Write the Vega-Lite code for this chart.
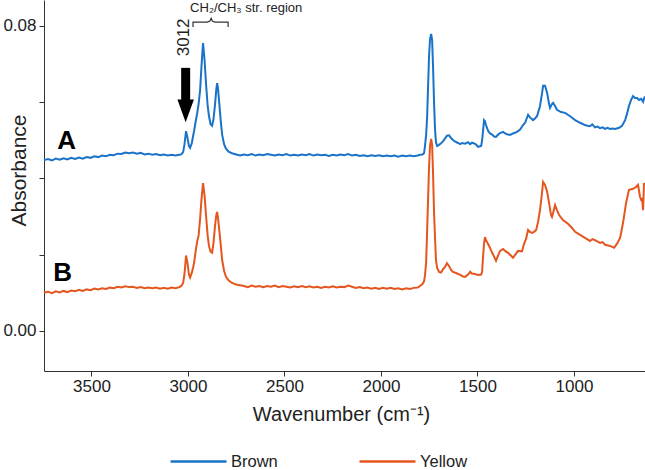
{
"$schema": "https://vega.github.io/schema/vega-lite/v6.json",
"autosize": {"type": "none"},
"padding": {"left": 44, "top": 0, "right": 0, "bottom": 99},
"width": 601,
"height": 371,
"background": "white",
"config": {
  "view": {"stroke": null},
  "font": "Liberation Sans",
  "axis": {"domainColor": "#333", "tickColor": "#333", "labelColor": "#222", "titleColor": "#222", "grid": false, "tickSize": 5, "labelFontSize": 17, "titleFontWeight": "normal", "labelFont": "Liberation Sans", "titleFont": "Liberation Sans"}
},
"datasets": {
  "spectra": [
{"sample":"Brown","wavenumber":3746,"absorbance":0.0448},{"sample":"Brown","wavenumber":3725,"absorbance":0.0451},{"sample":"Brown","wavenumber":3705,"absorbance":0.0447},{"sample":"Brown","wavenumber":3685,"absorbance":0.0452},{"sample":"Brown","wavenumber":3665,"absorbance":0.0449},{"sample":"Brown","wavenumber":3645,"absorbance":0.0453},{"sample":"Brown","wavenumber":3625,"absorbance":0.0450},{"sample":"Brown","wavenumber":3605,"absorbance":0.0454},{"sample":"Brown","wavenumber":3585,"absorbance":0.0451},{"sample":"Brown","wavenumber":3565,"absorbance":0.0455},{"sample":"Brown","wavenumber":3545,"absorbance":0.0452},{"sample":"Brown","wavenumber":3525,"absorbance":0.0456},{"sample":"Brown","wavenumber":3505,"absorbance":0.0454},{"sample":"Brown","wavenumber":3485,"absorbance":0.0458},{"sample":"Brown","wavenumber":3465,"absorbance":0.0456},{"sample":"Brown","wavenumber":3445,"absorbance":0.0460},{"sample":"Brown","wavenumber":3425,"absorbance":0.0458},{"sample":"Brown","wavenumber":3405,"absorbance":0.0462},{"sample":"Brown","wavenumber":3385,"absorbance":0.0461},{"sample":"Brown","wavenumber":3365,"absorbance":0.0465},{"sample":"Brown","wavenumber":3345,"absorbance":0.0464},{"sample":"Brown","wavenumber":3325,"absorbance":0.0468},{"sample":"Brown","wavenumber":3305,"absorbance":0.0466},{"sample":"Brown","wavenumber":3285,"absorbance":0.0468},{"sample":"Brown","wavenumber":3265,"absorbance":0.0465},{"sample":"Brown","wavenumber":3245,"absorbance":0.0467},{"sample":"Brown","wavenumber":3225,"absorbance":0.0463},{"sample":"Brown","wavenumber":3205,"absorbance":0.0465},{"sample":"Brown","wavenumber":3185,"absorbance":0.0462},{"sample":"Brown","wavenumber":3165,"absorbance":0.0464},{"sample":"Brown","wavenumber":3145,"absorbance":0.0461},{"sample":"Brown","wavenumber":3125,"absorbance":0.0463},{"sample":"Brown","wavenumber":3105,"absorbance":0.0460},{"sample":"Brown","wavenumber":3085,"absorbance":0.0462},{"sample":"Brown","wavenumber":3065,"absorbance":0.0460},{"sample":"Brown","wavenumber":3045,"absorbance":0.0462},{"sample":"Brown","wavenumber":3035,"absorbance":0.0463},{"sample":"Brown","wavenumber":3025,"absorbance":0.0469},{"sample":"Brown","wavenumber":3018,"absorbance":0.0490},{"sample":"Brown","wavenumber":3010,"absorbance":0.0524},{"sample":"Brown","wavenumber":3003,"absorbance":0.0508},{"sample":"Brown","wavenumber":2995,"absorbance":0.0485},{"sample":"Brown","wavenumber":2989,"absorbance":0.0480},{"sample":"Brown","wavenumber":2980,"absorbance":0.0493},{"sample":"Brown","wavenumber":2974,"absorbance":0.0510},{"sample":"Brown","wavenumber":2968,"absorbance":0.0525},{"sample":"Brown","wavenumber":2960,"absorbance":0.0550},{"sample":"Brown","wavenumber":2953,"absorbance":0.0569},{"sample":"Brown","wavenumber":2945,"absorbance":0.0595},{"sample":"Brown","wavenumber":2937,"absorbance":0.0632},{"sample":"Brown","wavenumber":2930,"absorbance":0.0695},{"sample":"Brown","wavenumber":2922,"absorbance":0.0755},{"sample":"Brown","wavenumber":2914,"absorbance":0.0710},{"sample":"Brown","wavenumber":2906,"absorbance":0.0645},{"sample":"Brown","wavenumber":2898,"absorbance":0.0590},{"sample":"Brown","wavenumber":2891,"absorbance":0.0563},{"sample":"Brown","wavenumber":2883,"absorbance":0.0542},{"sample":"Brown","wavenumber":2875,"absorbance":0.0538},{"sample":"Brown","wavenumber":2868,"absorbance":0.0555},{"sample":"Brown","wavenumber":2860,"absorbance":0.0593},{"sample":"Brown","wavenumber":2853,"absorbance":0.0635},{"sample":"Brown","wavenumber":2849,"absorbance":0.0650},{"sample":"Brown","wavenumber":2844,"absorbance":0.0635},{"sample":"Brown","wavenumber":2839,"absorbance":0.0604},{"sample":"Brown","wavenumber":2831,"absorbance":0.0555},{"sample":"Brown","wavenumber":2823,"absorbance":0.0515},{"sample":"Brown","wavenumber":2813,"absorbance":0.0490},{"sample":"Brown","wavenumber":2803,"absorbance":0.0478},{"sample":"Brown","wavenumber":2790,"absorbance":0.0470},{"sample":"Brown","wavenumber":2772,"absorbance":0.0466},{"sample":"Brown","wavenumber":2750,"absorbance":0.0463},{"sample":"Brown","wavenumber":2730,"absorbance":0.0460},{"sample":"Brown","wavenumber":2710,"absorbance":0.0463},{"sample":"Brown","wavenumber":2690,"absorbance":0.0461},{"sample":"Brown","wavenumber":2670,"absorbance":0.0464},{"sample":"Brown","wavenumber":2650,"absorbance":0.0460},{"sample":"Brown","wavenumber":2630,"absorbance":0.0463},{"sample":"Brown","wavenumber":2610,"absorbance":0.0461},{"sample":"Brown","wavenumber":2590,"absorbance":0.0464},{"sample":"Brown","wavenumber":2570,"absorbance":0.0462},{"sample":"Brown","wavenumber":2550,"absorbance":0.0460},{"sample":"Brown","wavenumber":2530,"absorbance":0.0463},{"sample":"Brown","wavenumber":2510,"absorbance":0.0461},{"sample":"Brown","wavenumber":2490,"absorbance":0.0464},{"sample":"Brown","wavenumber":2470,"absorbance":0.0460},{"sample":"Brown","wavenumber":2450,"absorbance":0.0462},{"sample":"Brown","wavenumber":2430,"absorbance":0.0460},{"sample":"Brown","wavenumber":2410,"absorbance":0.0463},{"sample":"Brown","wavenumber":2390,"absorbance":0.0461},{"sample":"Brown","wavenumber":2370,"absorbance":0.0464},{"sample":"Brown","wavenumber":2350,"absorbance":0.0460},{"sample":"Brown","wavenumber":2330,"absorbance":0.0463},{"sample":"Brown","wavenumber":2310,"absorbance":0.0461},{"sample":"Brown","wavenumber":2290,"absorbance":0.0462},{"sample":"Brown","wavenumber":2270,"absorbance":0.0459},{"sample":"Brown","wavenumber":2250,"absorbance":0.0462},{"sample":"Brown","wavenumber":2230,"absorbance":0.0460},{"sample":"Brown","wavenumber":2210,"absorbance":0.0463},{"sample":"Brown","wavenumber":2190,"absorbance":0.0461},{"sample":"Brown","wavenumber":2170,"absorbance":0.0464},{"sample":"Brown","wavenumber":2150,"absorbance":0.0460},{"sample":"Brown","wavenumber":2130,"absorbance":0.0462},{"sample":"Brown","wavenumber":2110,"absorbance":0.0459},{"sample":"Brown","wavenumber":2090,"absorbance":0.0461},{"sample":"Brown","wavenumber":2070,"absorbance":0.0458},{"sample":"Brown","wavenumber":2050,"absorbance":0.0461},{"sample":"Brown","wavenumber":2030,"absorbance":0.0459},{"sample":"Brown","wavenumber":2010,"absorbance":0.0461},{"sample":"Brown","wavenumber":1990,"absorbance":0.0458},{"sample":"Brown","wavenumber":1970,"absorbance":0.0460},{"sample":"Brown","wavenumber":1950,"absorbance":0.0458},{"sample":"Brown","wavenumber":1930,"absorbance":0.0460},{"sample":"Brown","wavenumber":1910,"absorbance":0.0457},{"sample":"Brown","wavenumber":1890,"absorbance":0.0460},{"sample":"Brown","wavenumber":1870,"absorbance":0.0458},{"sample":"Brown","wavenumber":1850,"absorbance":0.0460},{"sample":"Brown","wavenumber":1830,"absorbance":0.0458},{"sample":"Brown","wavenumber":1810,"absorbance":0.0460},{"sample":"Brown","wavenumber":1798,"absorbance":0.0462},{"sample":"Brown","wavenumber":1785,"absorbance":0.0463},{"sample":"Brown","wavenumber":1777,"absorbance":0.0466},{"sample":"Brown","wavenumber":1772,"absorbance":0.0485},{"sample":"Brown","wavenumber":1766,"absorbance":0.0515},{"sample":"Brown","wavenumber":1761,"absorbance":0.0560},{"sample":"Brown","wavenumber":1756,"absorbance":0.0640},{"sample":"Brown","wavenumber":1751,"absorbance":0.0720},{"sample":"Brown","wavenumber":1746,"absorbance":0.0765},{"sample":"Brown","wavenumber":1740,"absorbance":0.0779},{"sample":"Brown","wavenumber":1735,"absorbance":0.0763},{"sample":"Brown","wavenumber":1730,"absorbance":0.0690},{"sample":"Brown","wavenumber":1725,"absorbance":0.0600},{"sample":"Brown","wavenumber":1720,"absorbance":0.0530},{"sample":"Brown","wavenumber":1715,"absorbance":0.0495},{"sample":"Brown","wavenumber":1709,"absorbance":0.0485},{"sample":"Brown","wavenumber":1699,"absorbance":0.0488},{"sample":"Brown","wavenumber":1689,"absorbance":0.0492},{"sample":"Brown","wavenumber":1678,"absorbance":0.0498},{"sample":"Brown","wavenumber":1668,"absorbance":0.0505},{"sample":"Brown","wavenumber":1658,"absorbance":0.0512},{"sample":"Brown","wavenumber":1647,"absorbance":0.0513},{"sample":"Brown","wavenumber":1637,"absorbance":0.0506},{"sample":"Brown","wavenumber":1627,"absorbance":0.0501},{"sample":"Brown","wavenumber":1617,"absorbance":0.0497},{"sample":"Brown","wavenumber":1601,"absorbance":0.0493},{"sample":"Brown","wavenumber":1590,"absorbance":0.0490},{"sample":"Brown","wavenumber":1580,"absorbance":0.0493},{"sample":"Brown","wavenumber":1564,"absorbance":0.0491},{"sample":"Brown","wavenumber":1549,"absorbance":0.0495},{"sample":"Brown","wavenumber":1538,"absorbance":0.0490},{"sample":"Brown","wavenumber":1528,"absorbance":0.0494},{"sample":"Brown","wavenumber":1518,"absorbance":0.0492},{"sample":"Brown","wavenumber":1507,"absorbance":0.0489},{"sample":"Brown","wavenumber":1497,"absorbance":0.0483},{"sample":"Brown","wavenumber":1481,"absorbance":0.0485},{"sample":"Brown","wavenumber":1476,"absorbance":0.0500},{"sample":"Brown","wavenumber":1471,"absorbance":0.0525},{"sample":"Brown","wavenumber":1466,"absorbance":0.0553},{"sample":"Brown","wavenumber":1461,"absorbance":0.0550},{"sample":"Brown","wavenumber":1456,"absorbance":0.0540},{"sample":"Brown","wavenumber":1445,"absorbance":0.0525},{"sample":"Brown","wavenumber":1435,"absorbance":0.0518},{"sample":"Brown","wavenumber":1424,"absorbance":0.0515},{"sample":"Brown","wavenumber":1414,"absorbance":0.0510},{"sample":"Brown","wavenumber":1404,"absorbance":0.0509},{"sample":"Brown","wavenumber":1393,"absorbance":0.0515},{"sample":"Brown","wavenumber":1383,"absorbance":0.0519},{"sample":"Brown","wavenumber":1367,"absorbance":0.0522},{"sample":"Brown","wavenumber":1357,"absorbance":0.0518},{"sample":"Brown","wavenumber":1347,"absorbance":0.0516},{"sample":"Brown","wavenumber":1331,"absorbance":0.0514},{"sample":"Brown","wavenumber":1316,"absorbance":0.0518},{"sample":"Brown","wavenumber":1295,"absorbance":0.0522},{"sample":"Brown","wavenumber":1279,"absorbance":0.0528},{"sample":"Brown","wavenumber":1264,"absorbance":0.0540},{"sample":"Brown","wavenumber":1253,"absorbance":0.0546},{"sample":"Brown","wavenumber":1238,"absorbance":0.0567},{"sample":"Brown","wavenumber":1228,"absorbance":0.0560},{"sample":"Brown","wavenumber":1212,"absorbance":0.0553},{"sample":"Brown","wavenumber":1202,"absorbance":0.0557},{"sample":"Brown","wavenumber":1191,"absorbance":0.0564},{"sample":"Brown","wavenumber":1176,"absorbance":0.0590},{"sample":"Brown","wavenumber":1165,"absorbance":0.0625},{"sample":"Brown","wavenumber":1160,"absorbance":0.0643},{"sample":"Brown","wavenumber":1150,"absorbance":0.0643},{"sample":"Brown","wavenumber":1139,"absorbance":0.0624},{"sample":"Brown","wavenumber":1129,"absorbance":0.0595},{"sample":"Brown","wavenumber":1124,"absorbance":0.0585},{"sample":"Brown","wavenumber":1114,"absorbance":0.0595},{"sample":"Brown","wavenumber":1108,"absorbance":0.0598},{"sample":"Brown","wavenumber":1098,"absorbance":0.0590},{"sample":"Brown","wavenumber":1088,"absorbance":0.0580},{"sample":"Brown","wavenumber":1067,"absorbance":0.0574},{"sample":"Brown","wavenumber":1046,"absorbance":0.0572},{"sample":"Brown","wavenumber":1020,"absorbance":0.0563},{"sample":"Brown","wavenumber":994,"absorbance":0.0553},{"sample":"Brown","wavenumber":968,"absorbance":0.0546},{"sample":"Brown","wavenumber":943,"absorbance":0.0540},{"sample":"Brown","wavenumber":930,"absorbance":0.0538},{"sample":"Brown","wavenumber":917,"absorbance":0.0537},{"sample":"Brown","wavenumber":905,"absorbance":0.0542},{"sample":"Brown","wavenumber":891,"absorbance":0.0534},{"sample":"Brown","wavenumber":878,"absorbance":0.0536},{"sample":"Brown","wavenumber":865,"absorbance":0.0532},{"sample":"Brown","wavenumber":852,"absorbance":0.0534},{"sample":"Brown","wavenumber":839,"absorbance":0.0530},{"sample":"Brown","wavenumber":826,"absorbance":0.0533},{"sample":"Brown","wavenumber":813,"absorbance":0.0530},{"sample":"Brown","wavenumber":800,"absorbance":0.0531},{"sample":"Brown","wavenumber":787,"absorbance":0.0530},{"sample":"Brown","wavenumber":766,"absorbance":0.0533},{"sample":"Brown","wavenumber":751,"absorbance":0.0538},{"sample":"Brown","wavenumber":735,"absorbance":0.0553},{"sample":"Brown","wavenumber":725,"absorbance":0.0570},{"sample":"Brown","wavenumber":715,"absorbance":0.0590},{"sample":"Brown","wavenumber":704,"absorbance":0.0606},{"sample":"Brown","wavenumber":694,"absorbance":0.0616},{"sample":"Brown","wavenumber":684,"absorbance":0.0611},{"sample":"Brown","wavenumber":673,"absorbance":0.0611},{"sample":"Brown","wavenumber":663,"absorbance":0.0606},{"sample":"Brown","wavenumber":652,"absorbance":0.0609},{"sample":"Brown","wavenumber":642,"absorbance":0.0601},{"sample":"Brown","wavenumber":637,"absorbance":0.0610},{"sample":"Brown","wavenumber":632,"absorbance":0.0615},
{"sample":"Yellow","wavenumber":3746,"absorbance":0.0100},{"sample":"Yellow","wavenumber":3725,"absorbance":0.0103},{"sample":"Yellow","wavenumber":3705,"absorbance":0.0099},{"sample":"Yellow","wavenumber":3685,"absorbance":0.0104},{"sample":"Yellow","wavenumber":3665,"absorbance":0.0101},{"sample":"Yellow","wavenumber":3645,"absorbance":0.0105},{"sample":"Yellow","wavenumber":3625,"absorbance":0.0102},{"sample":"Yellow","wavenumber":3605,"absorbance":0.0106},{"sample":"Yellow","wavenumber":3585,"absorbance":0.0104},{"sample":"Yellow","wavenumber":3565,"absorbance":0.0108},{"sample":"Yellow","wavenumber":3545,"absorbance":0.0105},{"sample":"Yellow","wavenumber":3525,"absorbance":0.0109},{"sample":"Yellow","wavenumber":3505,"absorbance":0.0107},{"sample":"Yellow","wavenumber":3485,"absorbance":0.0111},{"sample":"Yellow","wavenumber":3465,"absorbance":0.0109},{"sample":"Yellow","wavenumber":3445,"absorbance":0.0112},{"sample":"Yellow","wavenumber":3425,"absorbance":0.0110},{"sample":"Yellow","wavenumber":3405,"absorbance":0.0114},{"sample":"Yellow","wavenumber":3385,"absorbance":0.0112},{"sample":"Yellow","wavenumber":3365,"absorbance":0.0116},{"sample":"Yellow","wavenumber":3345,"absorbance":0.0114},{"sample":"Yellow","wavenumber":3325,"absorbance":0.0117},{"sample":"Yellow","wavenumber":3305,"absorbance":0.0115},{"sample":"Yellow","wavenumber":3285,"absorbance":0.0116},{"sample":"Yellow","wavenumber":3265,"absorbance":0.0113},{"sample":"Yellow","wavenumber":3245,"absorbance":0.0115},{"sample":"Yellow","wavenumber":3225,"absorbance":0.0112},{"sample":"Yellow","wavenumber":3205,"absorbance":0.0114},{"sample":"Yellow","wavenumber":3185,"absorbance":0.0112},{"sample":"Yellow","wavenumber":3165,"absorbance":0.0114},{"sample":"Yellow","wavenumber":3145,"absorbance":0.0111},{"sample":"Yellow","wavenumber":3125,"absorbance":0.0113},{"sample":"Yellow","wavenumber":3105,"absorbance":0.0111},{"sample":"Yellow","wavenumber":3085,"absorbance":0.0114},{"sample":"Yellow","wavenumber":3065,"absorbance":0.0112},{"sample":"Yellow","wavenumber":3045,"absorbance":0.0115},{"sample":"Yellow","wavenumber":3035,"absorbance":0.0118},{"sample":"Yellow","wavenumber":3025,"absorbance":0.0126},{"sample":"Yellow","wavenumber":3018,"absorbance":0.0150},{"sample":"Yellow","wavenumber":3010,"absorbance":0.0198},{"sample":"Yellow","wavenumber":3003,"absorbance":0.0180},{"sample":"Yellow","wavenumber":2995,"absorbance":0.0148},{"sample":"Yellow","wavenumber":2989,"absorbance":0.0140},{"sample":"Yellow","wavenumber":2980,"absorbance":0.0153},{"sample":"Yellow","wavenumber":2974,"absorbance":0.0165},{"sample":"Yellow","wavenumber":2968,"absorbance":0.0180},{"sample":"Yellow","wavenumber":2960,"absorbance":0.0210},{"sample":"Yellow","wavenumber":2953,"absorbance":0.0233},{"sample":"Yellow","wavenumber":2945,"absorbance":0.0250},{"sample":"Yellow","wavenumber":2937,"absorbance":0.0295},{"sample":"Yellow","wavenumber":2930,"absorbance":0.0345},{"sample":"Yellow","wavenumber":2922,"absorbance":0.0388},{"sample":"Yellow","wavenumber":2914,"absorbance":0.0355},{"sample":"Yellow","wavenumber":2906,"absorbance":0.0300},{"sample":"Yellow","wavenumber":2898,"absorbance":0.0250},{"sample":"Yellow","wavenumber":2891,"absorbance":0.0223},{"sample":"Yellow","wavenumber":2883,"absorbance":0.0208},{"sample":"Yellow","wavenumber":2875,"absorbance":0.0205},{"sample":"Yellow","wavenumber":2868,"absorbance":0.0230},{"sample":"Yellow","wavenumber":2860,"absorbance":0.0275},{"sample":"Yellow","wavenumber":2853,"absorbance":0.0305},{"sample":"Yellow","wavenumber":2849,"absorbance":0.0312},{"sample":"Yellow","wavenumber":2844,"absorbance":0.0295},{"sample":"Yellow","wavenumber":2839,"absorbance":0.0270},{"sample":"Yellow","wavenumber":2831,"absorbance":0.0230},{"sample":"Yellow","wavenumber":2823,"absorbance":0.0186},{"sample":"Yellow","wavenumber":2813,"absorbance":0.0158},{"sample":"Yellow","wavenumber":2803,"absorbance":0.0142},{"sample":"Yellow","wavenumber":2790,"absorbance":0.0133},{"sample":"Yellow","wavenumber":2772,"absorbance":0.0126},{"sample":"Yellow","wavenumber":2750,"absorbance":0.0122},{"sample":"Yellow","wavenumber":2730,"absorbance":0.0120},{"sample":"Yellow","wavenumber":2710,"absorbance":0.0118},{"sample":"Yellow","wavenumber":2690,"absorbance":0.0115},{"sample":"Yellow","wavenumber":2670,"absorbance":0.0119},{"sample":"Yellow","wavenumber":2650,"absorbance":0.0116},{"sample":"Yellow","wavenumber":2630,"absorbance":0.0118},{"sample":"Yellow","wavenumber":2610,"absorbance":0.0115},{"sample":"Yellow","wavenumber":2590,"absorbance":0.0118},{"sample":"Yellow","wavenumber":2570,"absorbance":0.0116},{"sample":"Yellow","wavenumber":2550,"absorbance":0.0119},{"sample":"Yellow","wavenumber":2530,"absorbance":0.0115},{"sample":"Yellow","wavenumber":2510,"absorbance":0.0118},{"sample":"Yellow","wavenumber":2490,"absorbance":0.0116},{"sample":"Yellow","wavenumber":2470,"absorbance":0.0114},{"sample":"Yellow","wavenumber":2450,"absorbance":0.0117},{"sample":"Yellow","wavenumber":2430,"absorbance":0.0115},{"sample":"Yellow","wavenumber":2410,"absorbance":0.0118},{"sample":"Yellow","wavenumber":2390,"absorbance":0.0115},{"sample":"Yellow","wavenumber":2370,"absorbance":0.0117},{"sample":"Yellow","wavenumber":2350,"absorbance":0.0114},{"sample":"Yellow","wavenumber":2330,"absorbance":0.0116},{"sample":"Yellow","wavenumber":2310,"absorbance":0.0113},{"sample":"Yellow","wavenumber":2290,"absorbance":0.0116},{"sample":"Yellow","wavenumber":2270,"absorbance":0.0114},{"sample":"Yellow","wavenumber":2250,"absorbance":0.0117},{"sample":"Yellow","wavenumber":2230,"absorbance":0.0114},{"sample":"Yellow","wavenumber":2210,"absorbance":0.0116},{"sample":"Yellow","wavenumber":2190,"absorbance":0.0115},{"sample":"Yellow","wavenumber":2170,"absorbance":0.0119},{"sample":"Yellow","wavenumber":2150,"absorbance":0.0116},{"sample":"Yellow","wavenumber":2130,"absorbance":0.0113},{"sample":"Yellow","wavenumber":2110,"absorbance":0.0115},{"sample":"Yellow","wavenumber":2090,"absorbance":0.0112},{"sample":"Yellow","wavenumber":2070,"absorbance":0.0114},{"sample":"Yellow","wavenumber":2050,"absorbance":0.0111},{"sample":"Yellow","wavenumber":2030,"absorbance":0.0113},{"sample":"Yellow","wavenumber":2010,"absorbance":0.0110},{"sample":"Yellow","wavenumber":1990,"absorbance":0.0113},{"sample":"Yellow","wavenumber":1970,"absorbance":0.0111},{"sample":"Yellow","wavenumber":1950,"absorbance":0.0113},{"sample":"Yellow","wavenumber":1930,"absorbance":0.0110},{"sample":"Yellow","wavenumber":1910,"absorbance":0.0112},{"sample":"Yellow","wavenumber":1890,"absorbance":0.0109},{"sample":"Yellow","wavenumber":1870,"absorbance":0.0112},{"sample":"Yellow","wavenumber":1850,"absorbance":0.0110},{"sample":"Yellow","wavenumber":1830,"absorbance":0.0113},{"sample":"Yellow","wavenumber":1810,"absorbance":0.0114},{"sample":"Yellow","wavenumber":1798,"absorbance":0.0118},{"sample":"Yellow","wavenumber":1785,"absorbance":0.0123},{"sample":"Yellow","wavenumber":1777,"absorbance":0.0130},{"sample":"Yellow","wavenumber":1772,"absorbance":0.0145},{"sample":"Yellow","wavenumber":1766,"absorbance":0.0180},{"sample":"Yellow","wavenumber":1761,"absorbance":0.0260},{"sample":"Yellow","wavenumber":1756,"absorbance":0.0344},{"sample":"Yellow","wavenumber":1751,"absorbance":0.0430},{"sample":"Yellow","wavenumber":1746,"absorbance":0.0485},{"sample":"Yellow","wavenumber":1740,"absorbance":0.0504},{"sample":"Yellow","wavenumber":1735,"absorbance":0.0488},{"sample":"Yellow","wavenumber":1730,"absorbance":0.0410},{"sample":"Yellow","wavenumber":1725,"absorbance":0.0310},{"sample":"Yellow","wavenumber":1720,"absorbance":0.0245},{"sample":"Yellow","wavenumber":1715,"absorbance":0.0186},{"sample":"Yellow","wavenumber":1709,"absorbance":0.0165},{"sample":"Yellow","wavenumber":1699,"absorbance":0.0155},{"sample":"Yellow","wavenumber":1689,"absorbance":0.0153},{"sample":"Yellow","wavenumber":1678,"absorbance":0.0162},{"sample":"Yellow","wavenumber":1668,"absorbance":0.0168},{"sample":"Yellow","wavenumber":1658,"absorbance":0.0178},{"sample":"Yellow","wavenumber":1647,"absorbance":0.0170},{"sample":"Yellow","wavenumber":1637,"absorbance":0.0160},{"sample":"Yellow","wavenumber":1627,"absorbance":0.0155},{"sample":"Yellow","wavenumber":1611,"absorbance":0.0152},{"sample":"Yellow","wavenumber":1590,"absorbance":0.0147},{"sample":"Yellow","wavenumber":1575,"absorbance":0.0143},{"sample":"Yellow","wavenumber":1564,"absorbance":0.0142},{"sample":"Yellow","wavenumber":1549,"absorbance":0.0148},{"sample":"Yellow","wavenumber":1538,"absorbance":0.0155},{"sample":"Yellow","wavenumber":1528,"absorbance":0.0150},{"sample":"Yellow","wavenumber":1518,"absorbance":0.0150},{"sample":"Yellow","wavenumber":1497,"absorbance":0.0147},{"sample":"Yellow","wavenumber":1481,"absorbance":0.0148},{"sample":"Yellow","wavenumber":1476,"absorbance":0.0155},{"sample":"Yellow","wavenumber":1471,"absorbance":0.0195},{"sample":"Yellow","wavenumber":1466,"absorbance":0.0230},{"sample":"Yellow","wavenumber":1461,"absorbance":0.0246},{"sample":"Yellow","wavenumber":1456,"absorbance":0.0238},{"sample":"Yellow","wavenumber":1445,"absorbance":0.0228},{"sample":"Yellow","wavenumber":1435,"absorbance":0.0218},{"sample":"Yellow","wavenumber":1424,"absorbance":0.0205},{"sample":"Yellow","wavenumber":1414,"absorbance":0.0195},{"sample":"Yellow","wavenumber":1404,"absorbance":0.0184},{"sample":"Yellow","wavenumber":1393,"absorbance":0.0198},{"sample":"Yellow","wavenumber":1383,"absorbance":0.0210},{"sample":"Yellow","wavenumber":1367,"absorbance":0.0215},{"sample":"Yellow","wavenumber":1357,"absorbance":0.0210},{"sample":"Yellow","wavenumber":1342,"absorbance":0.0205},{"sample":"Yellow","wavenumber":1331,"absorbance":0.0200},{"sample":"Yellow","wavenumber":1316,"absorbance":0.0192},{"sample":"Yellow","wavenumber":1300,"absorbance":0.0203},{"sample":"Yellow","wavenumber":1290,"absorbance":0.0210},{"sample":"Yellow","wavenumber":1269,"absorbance":0.0209},{"sample":"Yellow","wavenumber":1259,"absorbance":0.0228},{"sample":"Yellow","wavenumber":1248,"absorbance":0.0242},{"sample":"Yellow","wavenumber":1238,"absorbance":0.0265},{"sample":"Yellow","wavenumber":1228,"absorbance":0.0260},{"sample":"Yellow","wavenumber":1217,"absorbance":0.0257},{"sample":"Yellow","wavenumber":1207,"absorbance":0.0260},{"sample":"Yellow","wavenumber":1196,"absorbance":0.0265},{"sample":"Yellow","wavenumber":1186,"absorbance":0.0286},{"sample":"Yellow","wavenumber":1176,"absorbance":0.0317},{"sample":"Yellow","wavenumber":1165,"absorbance":0.0365},{"sample":"Yellow","wavenumber":1160,"absorbance":0.0391},{"sample":"Yellow","wavenumber":1150,"absorbance":0.0383},{"sample":"Yellow","wavenumber":1139,"absorbance":0.0365},{"sample":"Yellow","wavenumber":1129,"absorbance":0.0336},{"sample":"Yellow","wavenumber":1119,"absorbance":0.0304},{"sample":"Yellow","wavenumber":1114,"absorbance":0.0299},{"sample":"Yellow","wavenumber":1108,"absorbance":0.0310},{"sample":"Yellow","wavenumber":1098,"absorbance":0.0330},{"sample":"Yellow","wavenumber":1088,"absorbance":0.0317},{"sample":"Yellow","wavenumber":1077,"absorbance":0.0304},{"sample":"Yellow","wavenumber":1057,"absorbance":0.0291},{"sample":"Yellow","wavenumber":1031,"absorbance":0.0281},{"sample":"Yellow","wavenumber":1010,"absorbance":0.0270},{"sample":"Yellow","wavenumber":994,"absorbance":0.0260},{"sample":"Yellow","wavenumber":968,"absorbance":0.0252},{"sample":"Yellow","wavenumber":943,"absorbance":0.0244},{"sample":"Yellow","wavenumber":917,"absorbance":0.0236},{"sample":"Yellow","wavenumber":904,"absorbance":0.0241},{"sample":"Yellow","wavenumber":891,"absorbance":0.0238},{"sample":"Yellow","wavenumber":865,"absorbance":0.0231},{"sample":"Yellow","wavenumber":852,"absorbance":0.0233},{"sample":"Yellow","wavenumber":839,"absorbance":0.0226},{"sample":"Yellow","wavenumber":813,"absorbance":0.0223},{"sample":"Yellow","wavenumber":792,"absorbance":0.0218},{"sample":"Yellow","wavenumber":777,"absorbance":0.0229},{"sample":"Yellow","wavenumber":761,"absorbance":0.0244},{"sample":"Yellow","wavenumber":746,"absorbance":0.0283},{"sample":"Yellow","wavenumber":730,"absorbance":0.0336},{"sample":"Yellow","wavenumber":715,"absorbance":0.0370},{"sample":"Yellow","wavenumber":694,"absorbance":0.0373},{"sample":"Yellow","wavenumber":678,"absorbance":0.0378},{"sample":"Yellow","wavenumber":668,"absorbance":0.0383},{"sample":"Yellow","wavenumber":658,"absorbance":0.0352},{"sample":"Yellow","wavenumber":652,"absorbance":0.0344},{"sample":"Yellow","wavenumber":647,"absorbance":0.0346},{"sample":"Yellow","wavenumber":642,"absorbance":0.0317},{"sample":"Yellow","wavenumber":637,"absorbance":0.0388},{"sample":"Yellow","wavenumber":632,"absorbance":0.0380}
  ],
  "letters": [
    {"label": "A", "wavenumber": 3629, "absorbance": 0.0498},
    {"label": "B", "wavenumber": 3650, "absorbance": 0.0153}
  ],
  "peaklabel": [{"label": "3012", "wavenumber": 3023, "absorbance": 0.0770}],
  "arrowshaft": [{"wavenumber": 3012, "absorbance": 0.0690, "absorbance_end": 0.0601}],
  "arrowhead": [{"wavenumber": 3012, "absorbance": 0.0577}],
  "bracket": [
    {"i": 1, "wavenumber": 2974, "absorbance": 0.0797},
    {"i": 2, "wavenumber": 2974, "absorbance": 0.0810},
    {"i": 3, "wavenumber": 2901, "absorbance": 0.0810},
    {"i": 4, "wavenumber": 2886, "absorbance": 0.0813},
    {"i": 5, "wavenumber": 2880, "absorbance": 0.0820},
    {"i": 6, "wavenumber": 2874, "absorbance": 0.0813},
    {"i": 7, "wavenumber": 2860, "absorbance": 0.0810},
    {"i": 8, "wavenumber": 2792, "absorbance": 0.0810},
    {"i": 9, "wavenumber": 2792, "absorbance": 0.0797}
  ],
  "region": [{"label": "CH₂/CH₃ str. region", "wavenumber": 2989, "absorbance": 0.0847}]
},
"layer": [
  {
    "data": {"name": "spectra"},
    "mark": {"type": "line", "strokeWidth": 2},
    "encoding": {
      "x": {"field": "wavenumber", "type": "quantitative",
        "scale": {"domain": [632, 3746], "reverse": true, "nice": false, "zero": false},
        "axis": {"values": [3500, 3000, 2500, 2000, 1500, 1000], "format": "d", "title": "Wavenumber (cm⁻¹)", "titleFontSize": 20, "titleX": 297, "titleY": 43, "titleBaseline": "middle", "labelPadding": 2}},
      "y": {"field": "absorbance", "type": "quantitative",
        "scale": {"domain": [-0.0105, 0.0868], "nice": false, "zero": false},
        "axis": {"values": [0, 0.02, 0.04, 0.06, 0.08], "labelExpr": "datum.value == 0 || datum.value == 0.08 ? format(datum.value, '.2f') : ''", "title": "Absorbance", "titleFontSize": 21, "titleX": -25, "titleY": 170, "titleBaseline": "middle", "titleAngle": 270, "labelPadding": 3}},
      "color": {"field": "sample", "type": "nominal",
        "scale": {"domain": ["Brown", "Yellow"], "range": ["#1a73c8", "#e5561f"]},
        "legend": {"title": null, "orient": "none", "legendX": 125, "legendY": 432, "direction": "horizontal", "symbolType": "stroke", "symbolSize": 3136, "symbolStrokeWidth": 2.5, "labelFontSize": 16.5, "labelColor": "#222", "labelFont": "Liberation Sans", "columnPadding": 76, "padding": 0, "labelOffset": 3}}
    }
  },
  {
    "data": {"name": "letters"},
    "mark": {"type": "text", "fontWeight": "bold", "fontSize": 26, "align": "center", "baseline": "middle", "color": "black"},
    "encoding": {
      "x": {"field": "wavenumber", "type": "quantitative"},
      "y": {"field": "absorbance", "type": "quantitative"},
      "text": {"field": "label"}
    }
  },
  {
    "data": {"name": "peaklabel"},
    "mark": {"type": "text", "fontSize": 17, "angle": 270, "align": "center", "baseline": "middle", "color": "#222"},
    "encoding": {
      "x": {"field": "wavenumber", "type": "quantitative"},
      "y": {"field": "absorbance", "type": "quantitative"},
      "text": {"field": "label"}
    }
  },
  {
    "data": {"name": "arrowshaft"},
    "mark": {"type": "rule", "strokeWidth": 9, "color": "black", "strokeCap": "butt"},
    "encoding": {
      "x": {"field": "wavenumber", "type": "quantitative"},
      "y": {"field": "absorbance", "type": "quantitative"},
      "y2": {"field": "absorbance_end"}
    }
  },
  {
    "data": {"name": "arrowhead"},
    "mark": {"type": "point", "shape": "M-1,-1.375L1,-1.375L0,1.375Z", "size": 272, "filled": true, "color": "black", "opacity": 1},
    "encoding": {
      "x": {"field": "wavenumber", "type": "quantitative"},
      "y": {"field": "absorbance", "type": "quantitative"}
    }
  },
  {
    "data": {"name": "bracket"},
    "mark": {"type": "line", "color": "#333", "strokeWidth": 1.2},
    "encoding": {
      "x": {"field": "wavenumber", "type": "quantitative"},
      "y": {"field": "absorbance", "type": "quantitative"},
      "order": {"field": "i", "type": "quantitative"}
    }
  },
  {
    "data": {"name": "region"},
    "mark": {"type": "text", "fontSize": 13, "align": "left", "baseline": "middle", "color": "#222"},
    "encoding": {
      "x": {"field": "wavenumber", "type": "quantitative"},
      "y": {"field": "absorbance", "type": "quantitative"},
      "text": {"field": "label"}
    }
  }
]
}
